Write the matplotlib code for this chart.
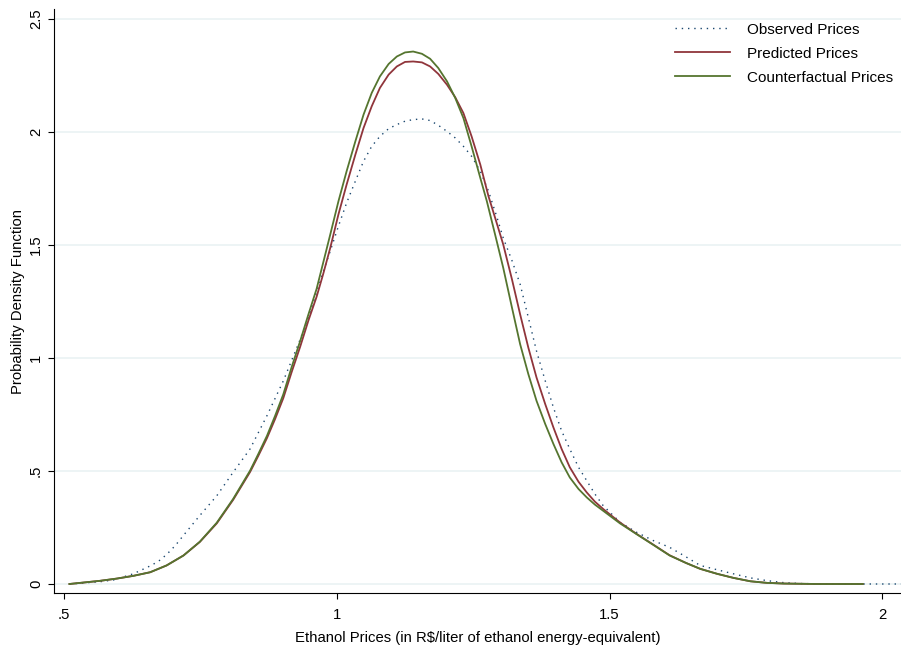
import matplotlib
matplotlib.use("Agg")
import matplotlib.pyplot as plt

plt.rcParams['font.family'] = ['Liberation Sans', 'DejaVu Sans']

# observed prices (kernel density)
obs_x = [0.51, 0.566, 0.591, 0.627, 0.658, 0.673, 0.688, 0.704, 0.719, 0.749, 0.780, 0.810, 0.841,
         0.872, 0.902, 0.933, 0.948, 0.963, 0.975, 0.988, 1.003, 1.018, 1.034, 1.049, 1.064, 1.079,
         1.095, 1.110, 1.125, 1.140, 1.156, 1.171, 1.186, 1.202, 1.217, 1.232, 1.247, 1.263, 1.278,
         1.293, 1.305, 1.321, 1.336, 1.351, 1.366, 1.382, 1.397, 1.412, 1.427, 1.443, 1.458, 1.473,
         1.488, 1.519, 1.549, 1.580, 1.610, 1.640, 1.666, 1.697, 1.727, 1.758, 1.788, 1.819, 1.849,
         1.910, 2.034]
obs_y = [0.0, 0.010, 0.018, 0.045, 0.080, 0.100, 0.130, 0.170, 0.215, 0.303, 0.390, 0.494, 0.597,
         0.744, 0.898, 1.082, 1.178, 1.290, 1.380, 1.472, 1.582, 1.685, 1.781, 1.869, 1.935, 1.979,
         2.013, 2.031, 2.046, 2.053, 2.056, 2.049, 2.028, 2.001, 1.972, 1.935, 1.891, 1.825, 1.737,
         1.625, 1.530, 1.430, 1.325, 1.178, 1.030, 0.898, 0.780, 0.677, 0.597, 0.516, 0.457, 0.398,
         0.347, 0.273, 0.229, 0.192, 0.162, 0.120, 0.082, 0.063, 0.045, 0.027, 0.015, 0.006, 0.002,
         0.0, 0.0]

# predicted prices
pred_x = [0.51, 0.566, 0.597, 0.627, 0.658, 0.688, 0.719, 0.749, 0.780, 0.810, 0.841, 0.856, 0.872,
          0.887, 0.902, 0.917, 0.933, 0.948, 0.963, 0.975, 0.988, 1.003, 1.018, 1.034, 1.049, 1.064,
          1.079, 1.095, 1.110, 1.125, 1.140, 1.156, 1.171, 1.186, 1.202, 1.217, 1.232, 1.247, 1.263,
          1.278, 1.290, 1.305, 1.321, 1.336, 1.351, 1.366, 1.382, 1.397, 1.412, 1.427, 1.443, 1.458,
          1.473, 1.488, 1.519, 1.549, 1.580, 1.610, 1.640, 1.666, 1.697, 1.727, 1.758, 1.788, 1.819,
          1.880, 1.964]
pred_y = [0.0, 0.014, 0.024, 0.036, 0.052, 0.082, 0.126, 0.186, 0.268, 0.372, 0.495, 0.566, 0.645,
          0.730, 0.822, 0.935, 1.050, 1.165, 1.270, 1.370, 1.486, 1.634, 1.766, 1.898, 2.016, 2.112,
          2.193, 2.252, 2.288, 2.308, 2.310, 2.306, 2.288, 2.255, 2.207, 2.152, 2.082, 1.979, 1.854,
          1.714, 1.620, 1.501, 1.347, 1.192, 1.045, 0.913, 0.795, 0.692, 0.597, 0.516, 0.452, 0.405,
          0.364, 0.332, 0.272, 0.222, 0.174, 0.127, 0.093, 0.067, 0.045, 0.027, 0.012, 0.005, 0.002,
          0.0, 0.0]

# counterfactual prices
cf_x = [0.51, 0.566, 0.597, 0.627, 0.658, 0.688, 0.719, 0.749, 0.780, 0.810, 0.841, 0.856, 0.872,
        0.887, 0.902, 0.917, 0.933, 0.948, 0.963, 0.975, 0.988, 1.003, 1.018, 1.034, 1.049, 1.064,
        1.079, 1.095, 1.110, 1.125, 1.140, 1.156, 1.171, 1.186, 1.202, 1.217, 1.232, 1.247, 1.263,
        1.275, 1.290, 1.305, 1.321, 1.336, 1.351, 1.366, 1.382, 1.397, 1.412, 1.427, 1.443, 1.458,
        1.473, 1.488, 1.519, 1.549, 1.580, 1.610, 1.640, 1.666, 1.697, 1.727, 1.758, 1.788, 1.819,
        1.880, 1.964]
cf_y = [0.0, 0.014, 0.024, 0.036, 0.052, 0.082, 0.126, 0.187, 0.271, 0.376, 0.501, 0.574, 0.655,
        0.744, 0.839, 0.957, 1.075, 1.192, 1.305, 1.420, 1.545, 1.692, 1.825, 1.957, 2.075, 2.171,
        2.244, 2.299, 2.332, 2.350, 2.354, 2.344, 2.322, 2.281, 2.222, 2.149, 2.060, 1.935, 1.795,
        1.692, 1.546, 1.398, 1.222, 1.060, 0.928, 0.810, 0.707, 0.619, 0.538, 0.471, 0.420, 0.383,
        0.351, 0.324, 0.268, 0.221, 0.173, 0.126, 0.093, 0.067, 0.045, 0.027, 0.012, 0.005, 0.002,
        0.0, 0.0]

x_ticks = [0.5, 1.0, 1.5, 2.0]
x_labels = ['.5', '1', '1.5', '2']
y_ticks = [0, 0.5, 1, 1.5, 2, 2.5]
y_labels = ['0', '.5', '1', '1.5', '2', '2.5']

W, H = 901, 655
fig = plt.figure(figsize=(W / 100, H / 100), dpi=100)
ax = fig.add_axes([54 / W, (H - 593) / H, (901 - 54) / W, (593 - 9) / H])

ax.plot(obs_x, obs_y, color='#1a476f', lw=1.0, linestyle=(0, (1, 3.5)), label='Observed Prices')
ax.plot(pred_x, pred_y, color='#90353b', lw=1.3, label='Predicted Prices')
ax.plot(cf_x, cf_y, color='#55752f', lw=1.3, label='Counterfactual Prices')

ax.set_xlim(0.4817, 2.034)
ax.set_ylim(-0.0398, 2.542)

ax.set_xticks(x_ticks)
ax.set_xticklabels(x_labels)
ax.set_yticks(y_ticks)
ax.set_yticklabels(y_labels, rotation=90, va='center')
ax.tick_params(axis='both', length=4.5, width=0.8, labelsize=10.7)
ax.tick_params(axis='y', pad=3.5)
ax.tick_params(axis='x', pad=6)

ax.grid(axis='y', color='#eaf2f3', lw=1.2)
ax.set_axisbelow(True)
for s in ['top', 'right']:
    ax.spines[s].set_visible(False)
for s in ['left', 'bottom']:
    ax.spines[s].set_linewidth(0.8)

ax.set_xlabel('Ethanol Prices (in R$/liter of ethanol energy-equivalent)', fontsize=10.7, labelpad=7)
ax.set_ylabel('Probability Density Function', fontsize=10.7, labelpad=3)

ax.legend(loc='upper right', bbox_to_anchor=(1.007, 1.0), frameon=False, fontsize=11,
          handlelength=3.6, handletextpad=1.1, labelspacing=0.65)

fig.savefig('out.png', dpi=100)
